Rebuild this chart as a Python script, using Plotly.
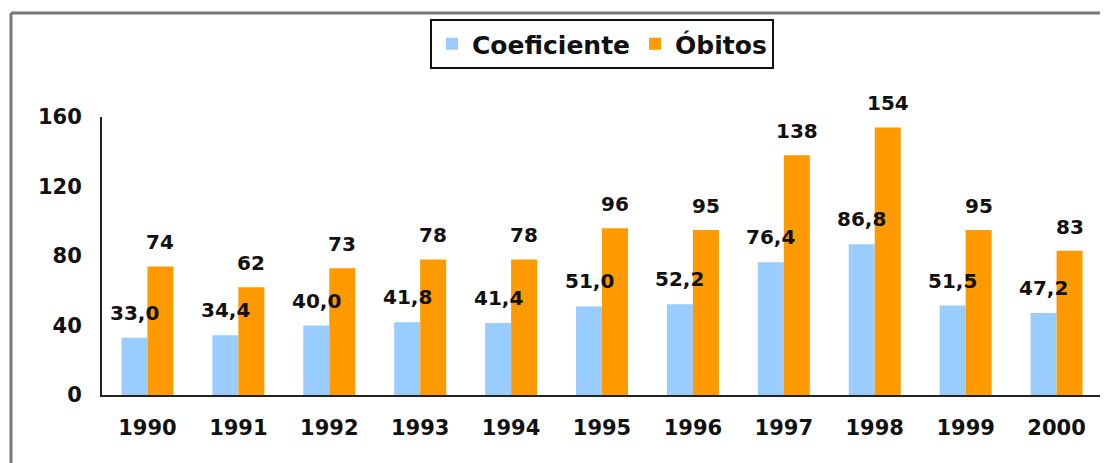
import plotly.graph_objects as go

years = ["1990", "1991", "1992", "1993", "1994", "1995", "1996", "1997", "1998", "1999", "2000"]
coeficiente = [33.0, 34.4, 40.0, 41.8, 41.4, 51.0, 52.2, 76.4, 86.8, 51.5, 47.2]
obitos = [74, 62, 73, 78, 78, 96, 95, 138, 154, 95, 83]
y_ticks = [0, 40, 80, 120, 160]

BLUE = "#99CCFF"
ORANGE = "#FF9900"
FONT = "DejaVu Sans"

fig = go.Figure()
fig.add_trace(go.Bar(name="Coeficiente", x=years, y=coeficiente, marker_color=BLUE,
                     marker_line_width=0))
fig.add_trace(go.Bar(name="Óbitos", x=years, y=obitos, marker_color=ORANGE,
                     marker_line_width=0))

annotations = []
for i, v in enumerate(coeficiente):
    annotations.append(dict(x=i, y=v, xref="x", yref="y", text=f"{v:.1f}".replace(".", ","),
                            showarrow=False, xshift=-13, yshift=25, yanchor="middle",
                            font=dict(family=FONT, size=20, color="#111", weight="bold")))
for i, v in enumerate(obitos):
    annotations.append(dict(x=i, y=v, xref="x", yref="y", text=str(v),
                            showarrow=False, xshift=13, yshift=24, yanchor="middle",
                            font=dict(family=FONT, size=20, color="#111", weight="bold")))

# page body has an 8px margin, so figure coords = screen coords - 8
OFF = 8
W, H = 1108 - OFF, 463 - OFF
L, R, T, B = 102 - OFF, 6, 117 - OFF, 463 - 395
pw, ph = W - L - R, H - T - B
fx = (11 - OFF - L) / pw
fy = 1 + (T - (13 - OFF)) / ph

fig.update_layout(
    width=W, height=H,
    margin=dict(l=L, r=R, t=T, b=B, autoexpand=False),
    paper_bgcolor="white", plot_bgcolor="white",
    barmode="group", bargap=0.428, bargroupgap=0,
    separators=",.",
    font=dict(family=FONT, size=21, color="#111", weight="bold"),
    showlegend=True,
    legend=dict(orientation="h", x=0.5, xanchor="center", y=1 + (T - (19 - OFF)) / ph, yanchor="top",
                bordercolor="#111", borderwidth=2, bgcolor="white",
                font=dict(family=FONT, size=25, color="#111", weight="bold"),
                traceorder="normal"),
    xaxis=dict(type="category", range=[-0.5, len(years) - 0.5], showgrid=False, showline=True,
               linecolor="#222", linewidth=2,
               ticks="", ticklabelstandoff=13, tickfont=dict(size=21, weight="bold")),
    yaxis=dict(range=[0, 160], tickvals=y_ticks, showgrid=False, showline=True,
               linecolor="#222", linewidth=2, ticks="", zeroline=False,
               ticklabelstandoff=14, tickfont=dict(size=21, weight="bold")),
    annotations=annotations,
    shapes=[
        dict(type="line", xref="paper", yref="paper", x0=fx, x1=fx, y0=-1, y1=fy,
             line=dict(color="#777", width=3)),
        dict(type="line", xref="paper", yref="paper", x0=fx, x1=1.2, y0=fy, y1=fy,
             line=dict(color="#777", width=3)),
    ],
)

fig.write_html("out.html")
